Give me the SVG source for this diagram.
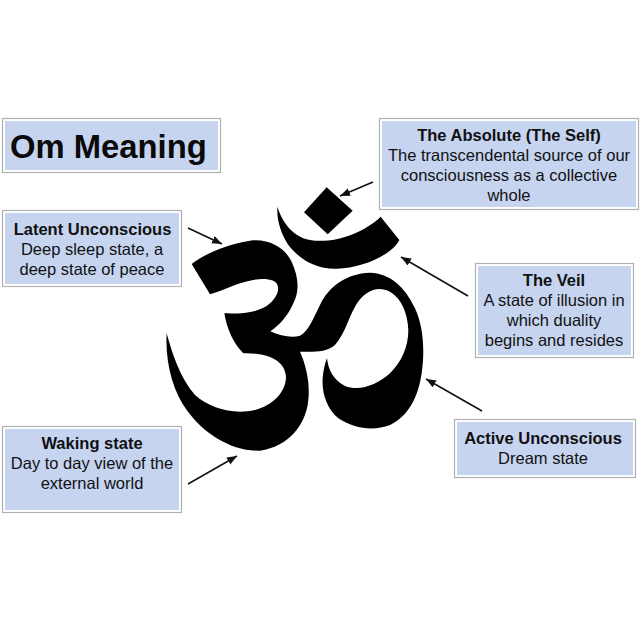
<svg xmlns="http://www.w3.org/2000/svg" width="640" height="640" viewBox="0 0 640 640">
<style>
.box{fill:#fff;stroke:#b0b0b0;stroke-width:1.2}
.mat{fill:#c6d4f0}
text{font-family:"Liberation Sans",Arial,sans-serif;font-size:16.5px;text-anchor:middle;fill:#111}
.b{font-weight:bold}
.title{font-size:32.8px;font-weight:bold;text-anchor:start;fill:#0a0a0a}
.arrow{fill:none;stroke:#111;stroke-width:1.6;marker-end:url(#head)}
</style>
<defs>
<marker id="head" markerUnits="userSpaceOnUse" markerWidth="12" markerHeight="10" refX="10" refY="4" orient="auto">
<path d="M0 0L10 4L0 8Z" fill="#111"/>
</marker>
</defs>
<rect width="640" height="640" fill="#fff"/>
<g id="connectors">
<line class="arrow" x1="373" y1="182" x2="340" y2="196"/>
<line class="arrow" x1="188" y1="228" x2="222" y2="244"/>
<line class="arrow" x1="468" y1="296" x2="401" y2="257"/>
<line class="arrow" x1="482" y1="411" x2="426" y2="379"/>
<line class="arrow" x1="188" y1="484" x2="237" y2="456"/>
</g>
<g id="om-symbol" transform="translate(160 170) scale(.33333)" fill="#000">
<path d="M95 282C130 255 190 225 270 212C330 205 375 235 395 275C415 320 420 360 400 400C385 435 360 465 331 484C360 497 395 505 420 497C445 485 460 445 480 405C505 350 560 310 630 308C690 310 735 350 765 415C790 470 795 540 785 610C775 680 745 740 690 765C640 785 580 775 535 745C500 715 485 670 488 625C490 600 495 580 501 565C505 600 520 630 555 648C600 665 650 645 690 610C725 575 745 530 745 480C743 430 725 385 690 365C650 345 610 365 585 410C565 445 555 490 525 525C500 548 460 545 420 545C440 590 450 640 445 690C438 765 385 830 300 842C215 845 130 790 80 720C40 665 15 580 20 490C35 545 60 625 105 675C150 715 220 735 285 720C340 705 378 665 378 620C375 575 330 548 250 550C220 520 200 475 193 430C245 432 300 428 330 400C355 378 365 345 340 332C310 320 265 330 225 345C200 355 175 365 150 373Z"/>
<path d="M352 110C368 160 400 200 450 210C520 222 610 190 662 140L718 210C700 250 610 295 530 296C470 298 420 270 385 225C362 190 350 150 352 110Z"/>
<path d="M500 52L578 122L503 193L432 127Z"/>
</g>
<g id="om-meaning">
<rect class="box" x="2.5" y="118.500" width="218" height="54"/>
<rect class="mat" x="5" y="121" width="213" height="49"/>
<text class="title" x="10" y="158">Om Meaning</text>
</g>
<g id="latent-unconscious">
<rect class="box" x="2.500" y="210.500" width="179" height="76"/>
<rect class="mat" x="5" y="213" width="174" height="71"/>
<text class="b" x="92.500" y="235">Latent Unconscious</text>
<text x="92" y="255">Deep sleep state, a</text>
<text x="92" y="275">deep state of peace</text>
</g>
<g id="absolute">
<rect class="box" x="379.500" y="118.500" width="259" height="91"/>
<rect class="mat" x="382" y="121" width="254" height="86"/>
<text class="b" x="509" y="141">The Absolute (The Self)</text>
<text x="509" y="161">The transcendental source of our</text>
<text x="509" y="181">consciousness as a collective</text>
<text x="509" y="201">whole</text>
</g>
<g id="veil">
<rect class="box" x="475.500" y="263.500" width="158" height="94"/>
<rect class="mat" x="478" y="266" width="153" height="89"/>
<text class="b" x="554" y="286">The Veil</text>
<text x="554" y="306">A state of illusion in</text>
<text x="554" y="326">which duality</text>
<text x="554" y="346">begins and resides</text>
</g>
<g id="active-unconscious">
<rect class="box" x="454.500" y="419.500" width="181" height="58"/>
<rect class="mat" x="457" y="422" width="176" height="53"/>
<text class="b" x="543" y="444">Active Unconscious</text>
<text x="543" y="464">Dream state</text>
</g>
<g id="waking-state">
<rect class="box" x="2.500" y="426.500" width="179" height="86"/>
<rect class="mat" x="5" y="429" width="174" height="81"/>
<text class="b" x="92" y="449">Waking state</text>
<text x="92" y="469">Day to day view of the</text>
<text x="92" y="489">external world</text>
</g>
</svg>
